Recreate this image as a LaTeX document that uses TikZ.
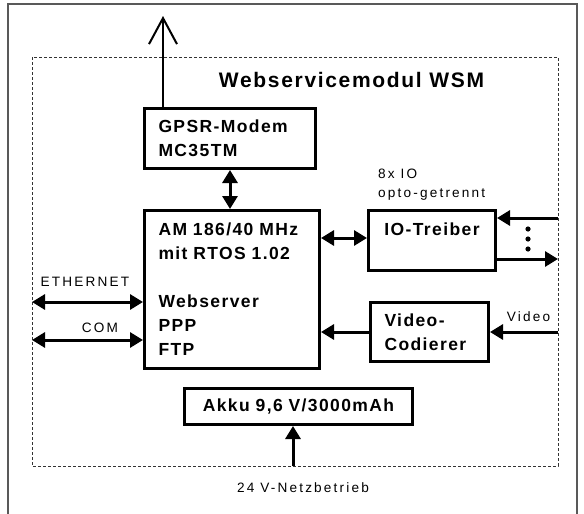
\documentclass[tikz,border=0pt]{standalone}
\usepackage{fontspec}
\setmainfont{Liberation Sans}
\newfontfamily\boxfont[LetterSpace=8]{Liberation Sans}
\newfontfamily\labfont[LetterSpace=16]{Liberation Sans}
\usetikzlibrary{arrows.meta}
\tikzset{
  bxf/.style={font=\boxfont\bfseries\fontsize{17.5}{24}\selectfont},
  blk/.style={draw, line width=3pt, rectangle, anchor=north west, inner xsep=14pt, inner ysep=0pt, bxf},
  lab/.style={font=\labfont\fontsize{13.6}{18.5}\selectfont, inner sep=0pt},
  tipf/.tip={Triangle[length=13pt,width=15pt]},
  arr/.style={line width=3pt, -tipf},
  darr/.style={line width=3pt, tipf-tipf},
  border/.style={draw=black!80, line width=0.8pt, dash pattern=on 3pt off 2pt},
}
\begin{document}
\begin{tikzpicture}[x=1pt,y=-1pt]
\useasboundingbox (0,0) rectangle (584,514);
% outer frame
\draw[gray!70!black, line width=1.2pt] (8,514) -- (8,4) -- (577,4) -- (577,514);
% module border
\draw[border] (32,57) rectangle (558,466);
\node[font=\boxfont\bfseries\fontsize{21}{24}\selectfont, inner sep=0pt] (title) at (351.5,80) {Webservicemodul WSM};
% blocks
\node[blk, align=left, text width=143pt, minimum height=60pt] (gpsr) at (143,107) {GPSR-Modem\\MC35TM};
\node[blk, align=left, text width=147pt, minimum height=158pt] (am) at (143,209) {AM 186/40 MHz\\mit RTOS 1.02\\[24pt]Webserver\\PPP\\FTP};
\node[blk, minimum width=127pt, minimum height=60pt, label={[bxf, anchor=base, yshift=-26pt, inner sep=0pt]north:IO-Treiber}] (io) at (367,209) {};
\node[blk, align=left, text width=90pt, minimum height=59pt] (vid) at (369,301) {Video-\\Codierer};
\node[blk, align=center, text width=200pt, minimum height=36pt] (akku) at (183,387) {Akku 9,6 V/3000mAh};
% labels
\node[lab, anchor=north west, align=left] (io8) at (378,169) {8x IO\\opto-getrennt};
\node[lab] (ethl) at (85,282) {ETHERNET};
\node[lab] (coml) at (100,327.5) {COM};
\node[lab] (vidl) at (528.5,317) {Video};
\node[lab] (netzl) at (303,487.5) {24 V-Netzbetrieb};
% free ends
\coordinate (ant) at (163,16);
\coordinate (eth) at (32,302);
\coordinate (com) at (32,340);
\coordinate (ioin) at (558,218);
\coordinate (ioout) at (558,259);
\coordinate (vin) at (558,332);
\coordinate (netz) at (293,466);
% connectors
\draw[line width=2.5pt, -{Straight Barb[length=26pt,width=28pt,line width=2pt]}] (ant |- gpsr.north) -- (ant);
\draw[darr] (gpsr.south) -- (gpsr.south |- am.north);
\draw[darr] (am.east |- 0,238) -- (io.west |- 0,238);
\draw[darr] (eth) -- (eth -| am.west);
\draw[darr] (com) -- (com -| am.west);
\draw[arr] (ioin) -- (ioin -| io.east);
\draw[arr] (ioout -| io.east) -- (ioout);
\fill (528,229) circle (2.6pt) (528,239) circle (2.6pt) (528,249) circle (2.6pt);
\draw[arr] (vid.west) -- (vid.west -| am.east);
\draw[arr] (vin) -- (vid.east);
\draw[arr] (netz) -- (netz |- akku.south);
\end{tikzpicture}
\end{document}
